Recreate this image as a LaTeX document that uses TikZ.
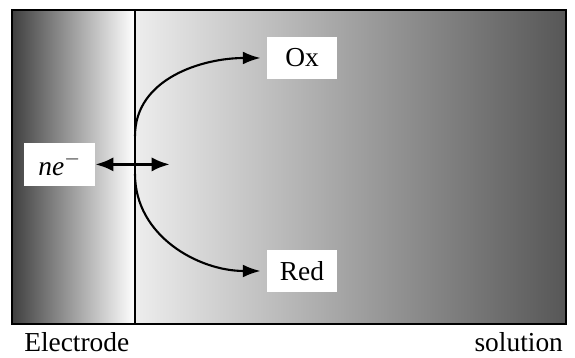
\documentclass[tikz,border=0pt]{standalone}
\usepackage{fontspec}
\setmainfont{Liberation Serif}
\usetikzlibrary{arrows.meta}

\begin{document}
\begin{tikzpicture}[font=\fontsize{19.5}{23}\selectfont,
  lab/.style={fill=white, inner sep=0pt, minimum width=1.76cm, minimum height=1.07cm},
  flow/.style={line width=1.5pt, -{Latex[length=4.4mm,width=3.2mm]}},
  wall/.style={line width=1.5pt},
  side/.style={inner sep=0pt},
]
  \useasboundingbox (0,0) rectangle (14.375,8.95);

  % electrode and solution
  \shade[left color=black!75, middle color=black!38, right color=white] (0.3,0.85) rectangle (3.375,8.7);
  \shade[left color=black!7, middle color=black!30, right color=black!66] (3.375,0.85) rectangle (14.15,8.7);
  \draw[wall] (0.3,0.85) rectangle (14.15,8.7);
  \draw[wall] (3.375,0.85) -- (3.375,8.7);

  \node[lab] (ox)  at (7.55,7.5)   {Ox};
  \node[lab] (red) at (7.55,2.175) {Red};
  \node[lab] (ne)  at (1.49,4.84)  {\textit{ne}$^{-}$};

  \coordinate (top) at (3.375,5.55);
  \coordinate (bot) at (3.375,4.6);
  \coordinate (tip) at (4.25,4.84);

  \draw[line width=2.4pt, {Latex[length=4.6mm,width=3.6mm]}-{Latex[length=4.6mm,width=3.6mm]}] (ne.east) -- (tip);
  \draw[flow] (top) to[out=90, in=180] ([xshift=-1.5mm]ox.west);
  \draw[flow] (bot) to[out=-90, in=180] ([xshift=-1.5mm]red.west);

  \node[side, anchor=base west] (el)  at (0.6,0.17)   {Electrode};
  \node[side, anchor=base east] (sol) at (14.08,0.17) {solution};
\end{tikzpicture}
\end{document}
